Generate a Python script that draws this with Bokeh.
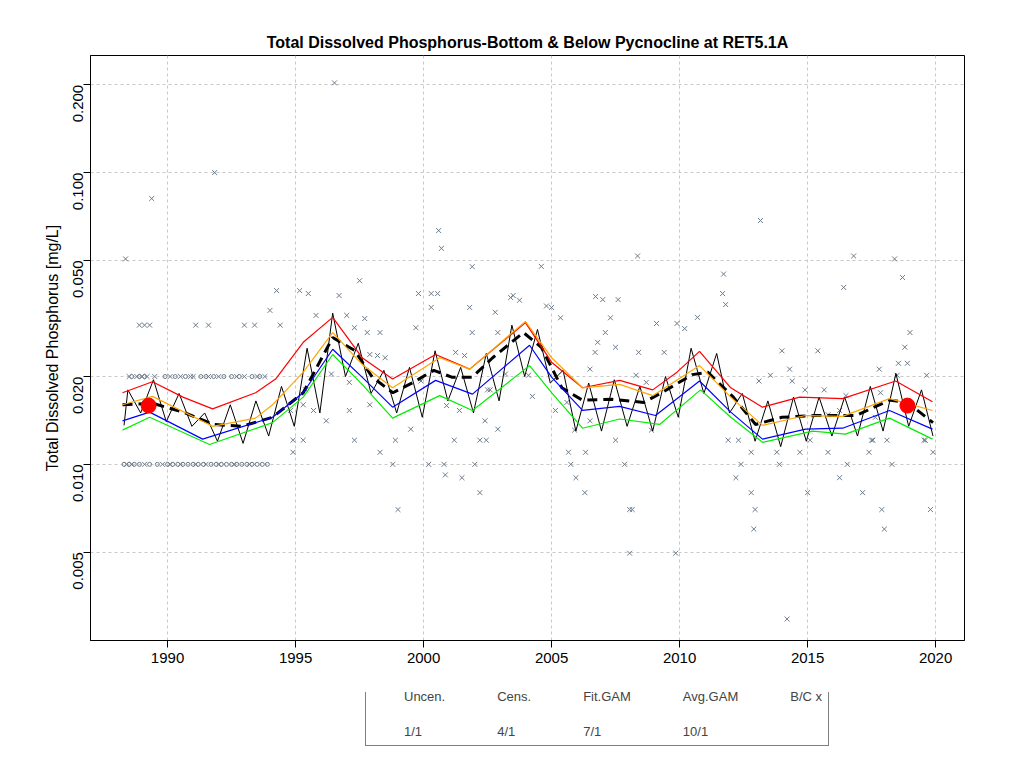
import numpy as np
from bokeh.plotting import figure
from bokeh.layouts import column
from bokeh.models import (FixedTicker, Legend, LegendItem, Range1d, Title)
from bokeh.embed import file_html
from bokeh.resources import INLINE

# ---- data ----
uncen_year = [1996.52, 1991.84, 1989.38, 1988.36, 2000.59, 2000.7, 2001.9, 2004.6, 2013.16, 2008.36,
              2011.72, 2011.68, 2016.8, 2018.4, 2018.71, 2016.41, 2006.72, 2007.0, 2007.6, 1997.5,
              1994.26, 1995.16, 1995.5, 1996.7, 1999.8, 2000.3, 2000.55, 2003.5,
              1988.9, 1989.1, 1989.3, 1991.1, 1991.6, 1993.0, 1993.4, 1994.4, 1994.0, 1995.8, 1997.0,
              1997.7, 1997.3, 1997.8, 1998.3, 1999.7, 2000.3, 2001.8, 2002.8, 2001.9, 2002.9, 2003.4,
              2003.75, 1996.4, 1997.1, 1997.9, 1998.2, 1998.5, 1999.9, 2001.25, 2001.6, 2002.5, 2003.2,
              2004.1, 1995.4, 1994.8, 1995.3, 1995.7, 1996.2, 1997.1, 1997.9, 1999.5, 2000.9, 2001.4,
              2002.4, 2002.9, 2002.6, 1994.9, 1995.3, 1997.3, 1998.9, 2001.2, 2002.2, 2002.45, 2007.5,
              2011.9, 2012.3, 2015.1, 2017.55, 2018.1, 2019.55, 1994.9, 1998.3, 2005.66, 2006.33,
              2012.8, 2013.8, 2014.7, 2015.8, 2017.4, 2019.9, 1998.8, 2000.2, 2000.8, 2002.0, 2005.75,
              2007.85, 2012.4, 2013.9, 2016.55, 2018.3, 1999.0, 2008.05, 2008.15, 2008.05, 2009.85,
              2014.2, 2012.95, 2012.9, 2017.9, 2018.0, 2019.8, 2000.85, 2001.5, 2002.2, 2006.3,
              2005.95, 2012.2, 2012.8, 2015.0, 2017.15, 2016.25,
              2004.8, 2005.0, 2005.35, 2007.3, 2009.1, 2009.9, 2010.2, 2010.7, 2007.1, 2006.8, 2007.5,
              2008.4, 2009.4, 2006.7, 2006.5, 2004.25, 2008.3, 2008.7, 2005.15, 2005.6, 2006.5,
              2005.9, 2008.9, 2011.8, 2014.0, 2015.4, 2019.0, 2018.8, 2018.55, 2018.9, 2017.8,
              2018.5, 2019.65, 2014.3, 2013.55, 2013.1, 2014.4, 2014.9, 2015.65, 2016.5, 2017.85,
              2016.25, 2015.8, 2017.65, 2017.5, 2019.6,
              1988.5, 1988.8, 1989.0, 1989.2, 1989.5, 1990.1, 1990.5, 1990.9, 1991.0, 1991.6,
              1992.0, 1992.7, 1993.0, 1993.5, 1993.8,
              1988.4, 1988.6, 1989.1, 1989.8, 1990.1, 1990.5, 1991.1, 1991.5, 1992.0, 1992.6, 1993.2]
uncen_val = [0.203, 0.100, 0.0815, 0.0506, 0.0633, 0.0550, 0.0476, 0.0477, 0.0685, 0.0518,
             0.0449, 0.0385, 0.0518, 0.0506, 0.0437, 0.0404, 0.0376, 0.0367, 0.0367, 0.0426,
             0.0394, 0.0394, 0.0385, 0.0379, 0.0385, 0.0385, 0.0385, 0.0379,
             0.030, 0.030, 0.030, 0.030, 0.030, 0.030, 0.030, 0.030, 0.0337, 0.0324, 0.0324,
             0.0316, 0.0294, 0.0283, 0.0283, 0.0294, 0.0345, 0.0345, 0.0332, 0.0283, 0.0283, 0.0373,
             0.0365, 0.0204, 0.0191, 0.0238, 0.0236, 0.0232, 0.0193, 0.0242, 0.0236, 0.0180, 0.0204,
             0.0202, 0.0180, 0.0153, 0.0160, 0.0153, 0.0141, 0.0153, 0.0160, 0.0132, 0.0159, 0.0153,
             0.0141, 0.0132, 0.0180, 0.0121, 0.0121, 0.0121, 0.0121, 0.0121, 0.0121, 0.0121, 0.0121,
             0.0121, 0.0121, 0.0121, 0.0121, 0.0121, 0.0121, 0.0110, 0.0110, 0.0110, 0.0110,
             0.0110, 0.0110, 0.0110, 0.0110, 0.0110, 0.0110, 0.010, 0.010, 0.010, 0.010, 0.010,
             0.010, 0.010, 0.010, 0.010, 0.010, 0.0070, 0.0070, 0.0070, 0.00496, 0.00496,
             0.00295, 0.0070, 0.0060, 0.0070, 0.0060, 0.0070, 0.0092, 0.0090, 0.0080, 0.0080,
             0.0090, 0.0090, 0.0080, 0.0080, 0.0080, 0.0090,
             0.0349, 0.0345, 0.0318, 0.0318, 0.0304, 0.0304, 0.0292, 0.0319, 0.0283, 0.0262, 0.0252,
             0.0242, 0.0242, 0.0242, 0.0212, 0.0171, 0.0202, 0.0191, 0.0153, 0.0163, 0.0141,
             0.0131, 0.0131, 0.0353, 0.0245, 0.0245, 0.0283, 0.0252, 0.0222, 0.0222, 0.0212,
             0.0202, 0.0202, 0.0212, 0.0202, 0.0193, 0.0193, 0.0180, 0.0180, 0.0172, 0.0176,
             0.0153, 0.0148, 0.0145, 0.0121, 0.0121,
             0.020, 0.020, 0.020, 0.020, 0.020, 0.020, 0.020, 0.020, 0.020, 0.020,
             0.020, 0.020, 0.020, 0.020, 0.020,
             0.010, 0.010, 0.010, 0.010, 0.010, 0.010, 0.010, 0.010, 0.010, 0.010, 0.010]

cens_year = [1988.3, 1988.5, 1988.7, 1988.9, 1989.3, 1989.6, 1990.0, 1990.2, 1990.4, 1990.6,
             1990.8, 1991.0, 1991.2, 1991.4, 1991.7, 1991.9, 1992.1, 1992.3, 1992.5, 1992.7,
             1992.9, 1993.1, 1993.3, 1993.5, 1993.7, 1993.9,
             1988.6, 1988.9, 1989.1, 1989.9, 1990.3, 1990.7, 1991.3, 1991.5, 1991.8, 1992.2,
             1992.5, 1992.8, 1993.3, 1993.6]
cens_val = [0.010] * 26 + [0.020] * 14

fit_year = [1988.3, 1988.45, 1988.95, 1989.45, 1989.95, 1990.45, 1990.95, 1991.45, 1991.95,
            1992.45, 1992.95, 1993.45, 1993.95, 1994.45, 1994.95, 1995.45, 1995.95, 1996.45,
            1996.95, 1997.45, 1997.95, 1998.45, 1998.95, 1999.45, 1999.95, 2000.45, 2000.95,
            2001.45, 2001.95, 2002.45, 2002.95, 2003.45, 2003.95, 2004.45, 2004.95, 2005.45,
            2005.95, 2006.45, 2006.95, 2007.45, 2007.95, 2008.45, 2008.95, 2009.45, 2009.95,
            2010.45, 2010.95, 2011.45, 2011.95, 2012.45, 2012.95, 2013.45, 2013.95, 2014.45,
            2014.95, 2015.45, 2015.95, 2016.45, 2016.95, 2017.45, 2017.95, 2018.45, 2018.95,
            2019.45, 2019.9]
fit_val = [0.0136, 0.0180, 0.0150, 0.0195, 0.0140, 0.0175, 0.0135, 0.0150, 0.0120,
           0.0160, 0.0118, 0.0165, 0.0125, 0.0185, 0.0135, 0.0250, 0.0150, 0.0330,
           0.0200, 0.0260, 0.0175, 0.0210, 0.0150, 0.0215, 0.0145, 0.0245, 0.0165,
           0.0215, 0.0150, 0.0240, 0.0165, 0.0300, 0.0200, 0.0290, 0.0190, 0.0210,
           0.0130, 0.0190, 0.0130, 0.0195, 0.0135, 0.0185, 0.0130, 0.0200, 0.0145,
           0.0250, 0.0175, 0.0240, 0.0150, 0.0175, 0.0120, 0.0165, 0.0115, 0.0170,
           0.0120, 0.0170, 0.0125, 0.0170, 0.0125, 0.0185, 0.0130, 0.0205, 0.0135,
           0.0180, 0.0125]

avg_year = [1988.24, 1989.41, 1990.6, 1991.8, 1992.9, 1994.1, 1995.3, 1996.45, 1997.3, 1998.0,
            1998.8, 1999.6, 2000.4, 2001.1, 2001.9, 2002.7, 2003.9, 2004.6, 2005.4, 2006.2,
            2007.4, 2008.6, 2009.3, 2010.5, 2011.1, 2012.1, 2012.97, 2014.0, 2015.3, 2016.9,
            2018.2, 2018.9, 2019.9]
avg_val = [0.0160, 0.0162, 0.0151, 0.0137, 0.0135, 0.0145, 0.0176, 0.0272, 0.0246, 0.0199,
           0.0176, 0.0191, 0.0210, 0.0199, 0.0199, 0.0232, 0.0283, 0.0252, 0.0183, 0.0166,
           0.0167, 0.0163, 0.0176, 0.0203, 0.0207, 0.0170, 0.0137, 0.0145, 0.0147, 0.0147,
           0.0166, 0.0163, 0.0139]

red_year = [1988.24, 1989.41, 1990.6, 1991.76, 1993.44, 1994.22, 1995.3, 1996.45, 1997.6, 1998.79,
            2000.47, 2001.8, 2003.98, 2005.0, 2006.21, 2007.66, 2008.95, 2009.9, 2010.78, 2012.0,
            2013.24, 2014.69, 2016.37, 2018.44, 2019.88]
red_val = [0.0176, 0.0192, 0.0170, 0.0155, 0.0176, 0.0196, 0.0262, 0.0319, 0.0232, 0.0196,
           0.0238, 0.0212, 0.0306, 0.0224, 0.0183, 0.0194, 0.0180, 0.0207, 0.0244, 0.0183,
           0.0157, 0.0170, 0.0168, 0.0193, 0.0164]

orange_year = [1988.24, 1989.41, 1991.76, 1993.44, 1994.1, 1995.3, 1996.45, 1997.6, 1998.79,
               2000.63, 2001.8, 2003.98, 2005.0, 2006.21, 2007.66, 2008.95, 2010.78, 2012.0,
               2013.24, 2014.92, 2016.37, 2018.2, 2019.88]
orange_val = [0.0160, 0.0171, 0.0135, 0.0144, 0.0160, 0.0207, 0.0283, 0.0220, 0.0183,
              0.0232, 0.0212, 0.0309, 0.0232, 0.0183, 0.0188, 0.0172, 0.0218, 0.0170,
              0.0136, 0.0147, 0.0146, 0.0168, 0.0153]

blue_year = [1988.24, 1989.3, 1991.37, 1994.1, 1995.3, 1996.45, 1997.6, 1998.79, 2000.47, 2001.91,
             2004.14, 2005.0, 2006.21, 2007.66, 2009.06, 2010.78, 2012.0, 2013.24, 2014.92,
             2016.37, 2018.2, 2019.88]
blue_val = [0.0141, 0.0151, 0.0122, 0.0145, 0.0176, 0.0248, 0.0199, 0.0157, 0.0194, 0.0174,
            0.0256, 0.0199, 0.0153, 0.0158, 0.0147, 0.0193, 0.0151, 0.0122, 0.0132,
            0.0133, 0.0153, 0.0132]

green_year = [1988.24, 1989.3, 1991.64, 1994.1, 1995.3, 1996.45, 1997.6, 1998.79, 2000.63, 2001.91,
              2004.14, 2005.0, 2006.21, 2007.66, 2009.22, 2010.82, 2012.0, 2013.24, 2015.2,
              2016.48, 2018.2, 2019.88]
green_val = [0.0131, 0.0145, 0.0117, 0.0139, 0.0170, 0.0238, 0.0188, 0.0144, 0.0172, 0.0153,
             0.0218, 0.0176, 0.0133, 0.0143, 0.0137, 0.0180, 0.0145, 0.0119, 0.0130,
             0.0127, 0.0144, 0.0122]

bc_year = [1989.26, 2018.9]
bc_val = [0.0159, 0.0159]

y_ticks = [0.005, 0.01, 0.02, 0.05, 0.1, 0.2]
y_labels = ["0.005", "0.010", "0.020", "0.050", "0.100", "0.200"]
x_ticks = [1990, 1995, 2000, 2005, 2010, 2015, 2020]

FONT = "Liberation Sans"
PT_COL = "#6c7b8b"

p = figure(width=1008, height=692, y_axis_type="log", output_backend="svg",
           toolbar_location=None, min_border_left=90, min_border_right=44,
           min_border_top=55, min_border_bottom=52,
           x_range=Range1d(1986.99, 2021.13), y_range=Range1d(0.00249, 0.252))

p.title = Title(text="Total Dissolved Phosphorus-Bottom & Below Pycnocline at RET5.1A",
                text_font=FONT, text_font_size="16px", text_font_style="bold",
                align="center", offset=0, text_color="black")
p.outline_line_color = "black"
p.outline_line_width = 1

p.xaxis.ticker = FixedTicker(ticks=x_ticks)
p.yaxis.ticker = FixedTicker(ticks=y_ticks)
p.yaxis.major_label_overrides = {t: l for t, l in zip(y_ticks, y_labels)}
p.yaxis.major_label_orientation = np.pi / 2
p.yaxis.axis_label = "Total Dissolved Phosphorus [mg/L]"
for ax in (p.xaxis, p.yaxis):
    ax.axis_line_color = "black"
    ax.major_tick_line_color = "black"
    ax.major_tick_out = 7
    ax.major_tick_in = 0
    ax.minor_tick_line_color = None
    ax.major_label_text_font = FONT
    ax.major_label_text_font_size = "15px"
    ax.major_label_text_color = "black"
    ax.axis_label_text_font = FONT
    ax.axis_label_text_font_size = "16px"
    ax.axis_label_text_font_style = "normal"
    ax.axis_label_text_color = "black"
p.grid.grid_line_color = "#c8c8c8"
p.grid.grid_line_dash = "3 3"
p.ygrid.minor_grid_line_color = None

p.scatter(uncen_year, uncen_val, marker="x", size=7, line_color=PT_COL, line_width=1)
p.scatter(cens_year, cens_val, marker="circle", size=4, fill_color=None,
          line_color=PT_COL, line_width=1)
p.line(fit_year, fit_val, line_color="black", line_width=1)
p.line(avg_year, avg_val, line_color="black", line_width=3, line_dash="10 6")
p.line(blue_year, blue_val, line_color="blue", line_width=1.2)
p.line(green_year, green_val, line_color="#00ee00", line_width=1.2)
p.line(red_year, red_val, line_color="red", line_width=1.2)
p.line(orange_year, orange_val, line_color="orange", line_width=1.2)
p.scatter(bc_year, bc_val, size=15, fill_color="red", line_color="red")

# legend lives in its own strip below the main plot
lf = figure(width=1008, height=62, output_backend="svg", toolbar_location=None,
            min_border=0, x_range=Range1d(0, 1), y_range=Range1d(0, 1))
lf.axis.visible = False
lf.grid.visible = False
lf.outline_line_color = None
e = ([], [])
g_unc = lf.scatter(*e, marker="x", size=7, line_color=PT_COL)
g_cen = lf.scatter(*e, marker="circle", size=4, fill_color=None, line_color=PT_COL)
g_fit = lf.line(*e, line_color="black", line_width=1)
g_avg = lf.line(*e, line_color="black", line_width=3, line_dash="10 6")
g_bc = lf.scatter(*e, size=7, fill_color="red", line_color="red", marker="diamond")
g_blue = lf.line(*e, line_color="blue", line_width=1.2)
g_green = lf.line(*e, line_color="#00ee00", line_width=1.2)
g_red = lf.line(*e, line_color="red", line_width=1.2)
g_orange = lf.line(*e, line_color="orange", line_width=1.2)

items = [LegendItem(label="Uncen.", renderers=[g_unc]),
         LegendItem(label="Cens.", renderers=[g_cen]),
         LegendItem(label="Fit.GAM", renderers=[g_fit]),
         LegendItem(label="Avg.GAM", renderers=[g_avg]),
         LegendItem(label="B/C x", renderers=[g_bc]),
         LegendItem(label="1/1", renderers=[g_blue]),
         LegendItem(label="4/1", renderers=[g_green]),
         LegendItem(label="7/1", renderers=[g_red]),
         LegendItem(label="10/1", renderers=[g_orange])]
leg = Legend(items=items, orientation="horizontal", nrows=2, location=(275, 8),
             label_text_font=FONT, label_text_font_size="13px", glyph_width=28,
             glyph_height=12, label_standoff=4, spacing=20, padding=6, margin=0,
             border_line_color="black", background_fill_alpha=1)
lf.add_layout(leg)

open("out.html", "w").write(file_html(column(p, lf, spacing=0), INLINE))
